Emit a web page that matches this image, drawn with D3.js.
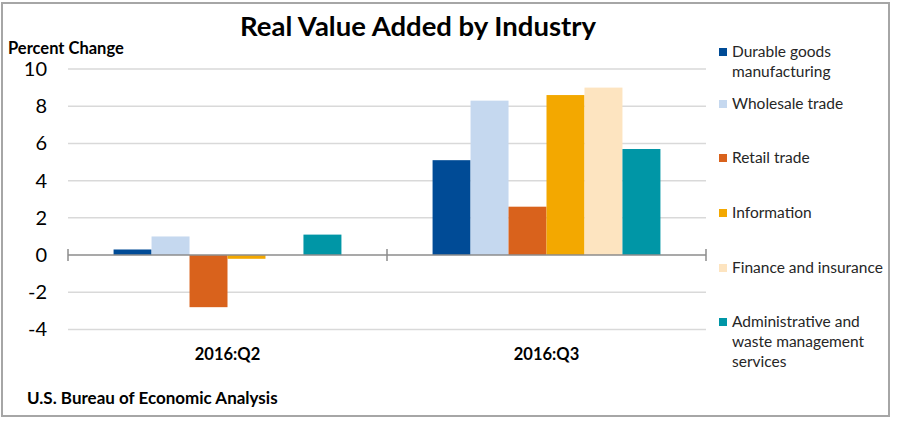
<!DOCTYPE html>
<html>
<head>
<meta charset="utf-8">
<title>Real Value Added by Industry</title>
<style>
body { margin: 0; background: #fff; font-family: 'Open Sans', sans-serif; }
</style>
</head>
<body>
<svg width="902" height="424"></svg>
<script src="https://d3js.org/d3.v7.min.js"></script>
<script>

// -------------------------------------------------------------------------
// DATA
// -------------------------------------------------------------------------
var quarters = ["2016:Q2", "2016:Q3"];
var industries = [
  "Durable goods manufacturing",
  "Wholesale trade",
  "Retail trade",
  "Information",
  "Finance and insurance",
  "Administrative and waste management services"
];
var legendLines = [
  ["Durable goods", "manufacturing"],
  ["Wholesale trade"],
  ["Retail trade"],
  ["Information"],
  ["Finance and insurance"],
  ["Administrative and", "waste management", "services"]
];
var q2Values = [0.3, 1.0, -2.8, -0.2, 0.0, 1.1];
var q3Values = [5.1, 8.3, 2.6, 8.6, 9.0, 5.7];
var yTicks = [-4, -2, 0, 2, 4, 6, 8, 10];
var colors = ["#004b96", "#c5d8ef", "#d9621c", "#f3a800", "#fde4c0", "#0096a6"];

var values = [q2Values, q3Values];

// -------------------------------------------------------------------------
// SETUP
// -------------------------------------------------------------------------
var svg = d3.select("svg");
var plot = { left: 68, right: 706, top: 69, bottom: 329.5 };

var x0 = d3.scaleBand()
    .domain(quarters)
    .range([plot.left, plot.right]);

var x1 = d3.scaleBand()
    .domain(industries)
    .range([0, x0.bandwidth()])
    .paddingOuter(1.2)
    .paddingInner(0);

var y = d3.scaleLinear()
    .domain([-4, 10])
    .range([plot.bottom, plot.top]);

var color = d3.scaleOrdinal().domain(industries).range(colors);

// outer frame
svg.append("rect")
    .attr("x", 2).attr("y", 3)
    .attr("width", 887).attr("height", 413)
    .attr("fill", "none")
    .attr("stroke", "#a6a6a6")
    .attr("stroke-width", 2);

// title
svg.append("text")
    .attr("x", 418).attr("y", 36)
    .attr("text-anchor", "middle")
    .attr("font-family", "Lato, sans-serif")
    .attr("font-weight", "bold")
    .attr("font-size", 27.5)
    .attr("fill", "#000")
    .text("Real Value Added by Industry");

svg.append("text")
    .attr("x", 8).attr("y", 54)
    .attr("font-family", "Lato, sans-serif")
    .attr("font-weight", "bold")
    .attr("font-size", 16.5)
    .attr("fill", "#000")
    .text("Percent Change");

// gridlines
svg.append("g")
  .selectAll("line")
    .data(yTicks.filter(function(d) { return d !== 0; }))
  .enter().append("line")
    .attr("x1", plot.left).attr("x2", plot.right)
    .attr("y1", function(d) { return y(d); })
    .attr("y2", function(d) { return y(d); })
    .attr("stroke", "#d9d9d9")
    .attr("stroke-width", 1.5);

// y axis labels
var yAxis = svg.append("g")
    .attr("transform", "translate(" + (plot.left - 21) + ",0)")
    .call(d3.axisLeft(y).tickValues(yTicks).tickSize(0).tickPadding(0)
      .tickFormat(function(d) { return String(d); }));
yAxis.select(".domain").remove();
yAxis.selectAll("text")
    .attr("font-family", "Lato, sans-serif")
    .attr("font-size", 20)
    .attr("fill", "#000");

// bars
var groups = svg.append("g")
  .selectAll("g")
    .data(quarters)
  .enter().append("g")
    .attr("transform", function(d) { return "translate(" + x0(d) + ",0)"; });

groups.selectAll("rect")
    .data(function(d, i) {
      return industries.map(function(k, j) { return { key: k, value: values[i][j] }; });
    })
  .enter().append("rect")
    .attr("x", function(d) { return x1(d.key); })
    .attr("width", x1.bandwidth())
    .attr("y", function(d) { return y(Math.max(0, d.value)); })
    .attr("height", function(d) { return Math.abs(y(d.value) - y(0)); })
    .attr("fill", function(d) { return color(d.key); });

// zero axis with category ticks
var xAxis = svg.append("g")
    .attr("transform", "translate(0," + y(0) + ")");
xAxis.append("line")
    .attr("x1", plot.left).attr("x2", plot.right)
    .attr("stroke", "#8c8c8c").attr("stroke-width", 1.5);
xAxis.selectAll(".tick")
    .data([plot.left].concat(quarters.map(function(q) { return x0(q) + x0.bandwidth(); })))
  .enter().append("line")
    .attr("x1", function(d) { return d; })
    .attr("x2", function(d) { return d; })
    .attr("y1", -6).attr("y2", 6)
    .attr("stroke", "#8c8c8c").attr("stroke-width", 1.5);

// category labels
svg.append("g")
  .selectAll("text")
    .data(quarters)
  .enter().append("text")
    .attr("x", function(d) { return x0(d) + x0.bandwidth() / 2; })
    .attr("y", 360)
    .attr("text-anchor", "middle")
    .attr("font-family", "Lato, sans-serif")
    .attr("font-weight", "bold")
    .attr("font-size", 16.5)
    .attr("fill", "#000")
    .text(function(d) { return d; });

// source
svg.append("text")
    .attr("x", 27).attr("y", 404)
    .attr("font-family", "Lato, sans-serif")
    .attr("font-weight", "bold")
    .attr("font-size", 17)
    .attr("fill", "#000")
    .text("U.S. Bureau of Economic Analysis");

// legend
var legendY = [52, 104, 158, 213, 268, 322];
var legend = svg.append("g")
  .selectAll("g")
    .data(industries)
  .enter().append("g")
    .attr("transform", function(d, i) { return "translate(719," + legendY[i] + ")"; });

legend.append("rect")
    .attr("x", 0).attr("y", -4)
    .attr("width", 8).attr("height", 8)
    .attr("fill", function(d) { return color(d); });

legend.append("text")
    .attr("font-family", "Lato, sans-serif")
    .attr("font-size", 15.5)
    .attr("fill", "#262626")
  .selectAll("tspan")
    .data(function(d, i) { return legendLines[i]; })
  .enter().append("tspan")
    .attr("x", 13)
    .attr("y", function(d, i) { return i * 20 + 5; })
    .text(function(d) { return d; });

</script>
</body>
</html>
